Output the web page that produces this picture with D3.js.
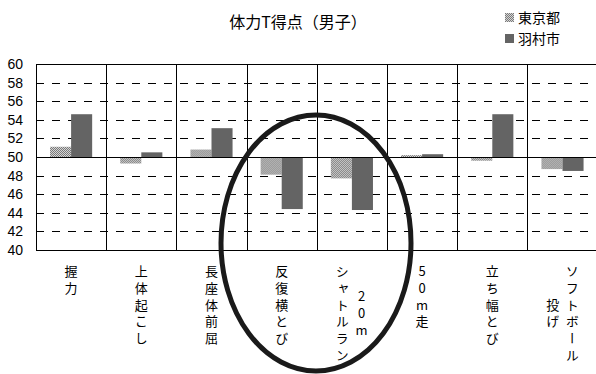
<!DOCTYPE html>
<html>
<head>
<meta charset="utf-8">
<script src="https://cdn.jsdelivr.net/npm/d3@7"></script>
<style>
  body { margin: 0; background: #fff; }
  svg { display: block; }
  .jp { font-family: "Noto Sans CJK JP", sans-serif; }
  .num { font-family: "Liberation Sans", Arial, sans-serif; }
  .vert { writing-mode: vertical-rl; text-orientation: upright; }
</style>
</head>
<body>
<div id="chart"></div>
<script>
// label columns run right to left, like vertical Japanese text
const categories = ["握力", "上体起こし", "長座体前屈", "反復横とび", "20mシャトルラン", "50m走", "立ち幅とび", "ソフトボール投げ"];
const labelColumns = [["握力"], ["上体起こし"], ["長座体前屈"], ["反復横とび"], ["20m", "シャトルラン"], ["50m走"], ["立ち幅とび"], ["ソフトボール", "投げ"]];
const seriesNames = ["東京都", "羽村市"];
const tokyoValues = [51.1, 49.3, 50.8, 48.1, 47.7, 50.2, 49.6, 48.7];
const hamuraValues = [54.6, 50.5, 53.1, 44.4, 44.3, 50.3, 54.6, 48.5];
const yTicks = [40, 42, 44, 46, 48, 50, 52, 54, 56, 58, 60];
const baseline = 50;

const width = 596, height = 374;
const plot = { left: 36, right: 597.6, top: 64, bottom: 250 };

const svg = d3.select("#chart").append("svg")
    .attr("width", width)
    .attr("height", height);

const defs = svg.append("defs");
const pat = defs.append("pattern")
    .attr("id", "checker")
    .attr("width", 2).attr("height", 2)
    .attr("patternUnits", "userSpaceOnUse");
pat.append("rect").attr("width", 2).attr("height", 2).attr("fill", "#d4d4d4");
pat.append("rect").attr("width", 1).attr("height", 1).attr("fill", "#7a7a7a");
pat.append("rect").attr("x", 1).attr("y", 1).attr("width", 1).attr("height", 1).attr("fill", "#7a7a7a");

const colors = { "東京都": "url(#checker)", "羽村市": "#646464" };

const x = d3.scaleBand().domain(categories).range([plot.left, plot.right]);
const bw = x.bandwidth();
const x1 = d3.scaleBand().domain(seriesNames).range([bw * 0.2, bw * 0.8]);
const y = d3.scaleLinear().domain([40, 60]).range([plot.bottom, plot.top]);

// grid lines
svg.append("g").selectAll("line")
    .data(yTicks.filter(t => t !== 40 && t !== 60 && t !== baseline))
    .join("line")
    .attr("x1", plot.left).attr("x2", plot.right)
    .attr("y1", d => Math.round(y(d)) + 0.5).attr("y2", d => Math.round(y(d)) + 0.5)
    .attr("stroke", "#000")
    .attr("stroke-dasharray", "8,8");

// bars
const rows = categories.map((c, i) => ({ cat: c, values: [tokyoValues[i], hamuraValues[i]] }));
svg.append("g").selectAll("g")
    .data(rows)
    .join("g")
    .attr("transform", d => `translate(${x(d.cat)},0)`)
    .selectAll("rect")
    .data(d => d.values.map((v, j) => ({ name: seriesNames[j], value: v })))
    .join("rect")
    .attr("x", d => x1(d.name))
    .attr("width", x1.bandwidth())
    .attr("y", d => y(Math.max(d.value, baseline)))
    .attr("height", d => Math.abs(y(d.value) - y(baseline)))
    .attr("fill", d => colors[d.name]);

// frame, baseline and category separators
[40, 60, baseline].forEach(t => {
    svg.append("line")
        .attr("x1", plot.left).attr("x2", plot.right)
        .attr("y1", Math.round(y(t)) + 0.5).attr("y2", Math.round(y(t)) + 0.5)
        .attr("stroke", "#000");
});
svg.append("g").selectAll("line")
    .data(categories)
    .join("line")
    .attr("x1", d => Math.round(x(d)) + 0.5).attr("x2", d => Math.round(x(d)) + 0.5)
    .attr("y1", y(60)).attr("y2", y(40))
    .attr("stroke", "#000");

// y labels
svg.append("g").selectAll("text")
    .data(yTicks)
    .join("text")
    .attr("class", "num")
    .attr("x", 23)
    .attr("y", d => y(d))
    .attr("dy", "0.36em")
    .attr("text-anchor", "end")
    .style("font-size", "14px")
    .text(d => d);

// vertical category labels, one text per column
const fontSize = 13, charStep = 16.8, colStep = 19.5, labelTop = 271 - charStep / 2;
labelColumns.forEach((cols, i) => {
    const cx = x(categories[i]) + bw / 2;
    const longest = d3.max(cols, c => c.length);
    cols.forEach((col, k) => {
        const colX = cx + ((cols.length - 1) / 2 - k) * colStep;
        const offset = (longest - col.length) / 2 * charStep;
        svg.append("text")
            .attr("class", "jp vert")
            .attr("x", colX)
            .attr("y", labelTop + offset + (charStep - fontSize) / 2)
            .style("font-size", fontSize + "px")
            .style("letter-spacing", (charStep - fontSize) + "px")
            .text(col);
    });
});

// title
svg.append("text")
    .attr("class", "jp")
    .attr("x", 298)
    .attr("y", 28)
    .attr("text-anchor", "middle")
    .style("font-size", "16px")
    .text("体力T得点（男子）");

// legend
const legend = svg.append("g").attr("transform", "translate(505,13)");
seriesNames.forEach((name, i) => {
    const row = legend.append("g").attr("transform", `translate(0,${i * 21})`);
    row.append("rect")
        .attr("width", 9).attr("height", 9)
        .attr("fill", colors[name]);
    row.append("text")
        .attr("class", "jp")
        .attr("x", 13)
        .attr("y", 4.5)
        .attr("dy", "0.38em")
        .style("font-size", "14px")
        .text(name);
});

// highlight ellipse
svg.append("ellipse")
    .attr("cx", 316).attr("cy", 243)
    .attr("rx", 95).attr("ry", 128)
    .attr("fill", "none")
    .attr("stroke", "#1a1a1a")
    .attr("stroke-width", 5);
</script>
</body>
</html>
